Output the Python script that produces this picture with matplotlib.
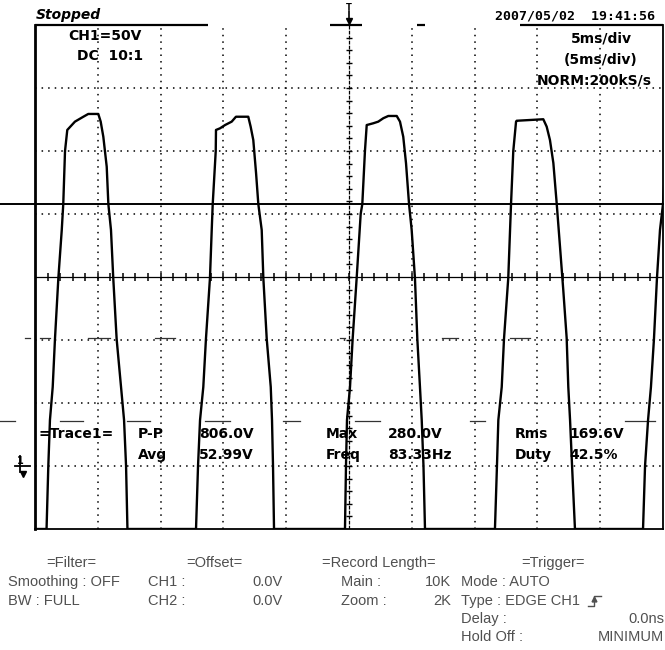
import numpy as np
import matplotlib
matplotlib.use("Agg")
import matplotlib.pyplot as plt
from matplotlib.lines import Line2D

W, H = 665, 650

# screen: 10 div x 5 ms/div, 8 div x 50 V/div, ground one div above bottom
t_min, t_max = 0.0, 50.0
v_min, v_max = -50.0, 350.0

# CH1 trace, time in ms, voltage in V
pulse1_t = [0.92, 1.06, 1.19, 1.41, 1.59, 1.86, 2.13, 2.25, 2.39, 2.57, 3.18, 3.85, 4.24,
            5.04, 5.23, 5.44, 5.71, 5.84, 6.05, 6.23, 6.50, 6.85, 7.09, 7.25, 7.36]
pulse1_v = [-50, 0, 36.5, 62.7, 100.8, 149.2, 187.3, 207.9, 250, 266.7, 273.3, 277.2, 279.4,
            279.4, 273.3, 261.3, 237.5, 207.9, 187.3, 149.2, 100.8, 62.7, 36.5, 0, -50]
pulse2_t = [12.82, 12.98, 13.14, 13.40, 13.61, 13.93, 14.07, 14.15, 14.39, 14.41, 14.73, 15.13, 15.66,
            16.00, 16.98, 17.17, 17.38, 17.60, 17.78, 18.05, 18.18, 18.45, 18.77, 18.87, 18.95, 19.03]
pulse2_v = [-50, 0, 36.5, 62.7, 100.8, 149.2, 187.3, 207.9, 250, 266.7, 268.0, 270.6, 273.3,
            277.2, 277.2, 269.3, 258.7, 232.5, 207.9, 187.3, 149.2, 100.8, 62.7, 36.5, 0, -50]
pulse3_t = [24.68, 24.76, 24.84, 25.08, 25.29, 25.61, 25.93, 26.06, 26.27, 26.41, 26.93, 27.33, 27.73,
            28.13, 28.80, 29.06, 29.32, 29.54, 29.78, 29.99, 30.25, 30.44, 30.65, 30.79, 30.93, 31.05]
pulse3_v = [-50, 0, 36.5, 62.7, 100.8, 149.2, 200, 207.9, 250, 270.6, 272.0, 273.3, 276.0,
            277.8, 277.8, 273.3, 261.3, 240.2, 207.9, 187.3, 149.2, 100.8, 62.7, 36.5, 0, -50]
pulse4_t = [36.62, 36.78, 36.89, 37.16, 37.34, 37.68, 37.90, 38.08, 38.30, 38.35, 40.47,
            40.74, 41.00, 41.27, 41.54, 41.80, 42.06, 42.33, 42.46, 42.60, 42.76, 42.99]
pulse4_v = [-50, 0, 36.5, 62.7, 100.8, 149.2, 207.9, 250, 273.3, 274.0, 275.2,
            269.3, 258.7, 240.5, 207.9, 174.0, 139.7, 101.6, 62.7, 36.5, 0, -50]
pulse5_t = [48.41, 48.57, 48.81, 49.04, 49.28, 49.52, 49.76, 50.00, 50.16]
pulse5_v = [-50, 0, 36.5, 62.7, 100.8, 149.2, 187.3, 207.9, 234.9]

cursor_v = 208.0      # solid cursor line
trig_t = 25.0         # trigger position (screen centre)

# short leftover dashes on the screen (start ms, end ms) at two levels
dash_v = [101.6, 35.7]
dash_spans = [
    [(-0.80, -0.40), (0.40, 1.19), (4.22, 5.97), (9.55, 11.15), (24.28, 24.68),
     (32.40, 33.68), (37.82, 39.41)],
    [(-2.79, -1.59), (1.99, 3.82), (7.32, 9.16), (13.54, 15.53), (19.75, 21.10),
     (25.48, 27.47), (34.63, 35.83), (46.97, 49.36)],
]

meas_row1 = [("P-P", "806.0V"), ("Max", "280.0V"), ("Rms", "169.6V")]
meas_row2 = [("Avg", "52.99V"), ("Freq", "83.33Hz"), ("Duty", "42.5%")]

trace_t = [0.0] + pulse1_t + pulse2_t + pulse3_t + pulse4_t + pulse5_t
trace_v = [-50] + pulse1_v + pulse2_v + pulse3_v + pulse4_v + pulse5_v

fig = plt.figure(figsize=(W / 100, H / 100), dpi=100)
fig.patch.set_facecolor("white")
ax = fig.add_axes([35 / W, (H - 529) / H, 628 / W, 504 / H])
ax.set_xlim(t_min, t_max)
ax.set_ylim(v_min, v_max)
ax.set_xticks([])
ax.set_yticks([])
for s in ["left", "right", "bottom"]:
    ax.spines[s].set_linewidth(1.3)
ax.spines["left"].set_linewidth(2.0)
ax.spines["top"].set_visible(False)

# partial top border (status bar underline)
for a, b in [(0.0, 13.77), (23.49, 26.03), (30.41, 31.05), (38.61, 50.0)]:
    ax.plot([a, b], [v_max, v_max], color="k", lw=1.6, clip_on=False, solid_capstyle="butt")

# dotted graticule
dots = (0, (1.0, 3.3))
for t in np.arange(5, 50, 5):
    if t != 25:
        ax.axvline(t, color="k", lw=1.1, ls=dots)
for v in np.arange(0, 350, 50):
    if v != 150:
        ax.axhline(v, color="k", lw=1.1, ls=dots)

# centre axes with minor ticks
ax.axhline(150, color="k", lw=0.9)
ax.plot(np.arange(1, 50, 1), np.full(49, 150.0), ls="none", marker="|", ms=6, mew=1.1, color="k")
ax.axvline(25, color="k", lw=0.9, ls=(0, (3, 1)))
ax.plot(np.full(39, 25.0), np.arange(-40, 350, 10), ls="none", marker="_", ms=5, mew=1.0, color="k")

# leftover dashes
for lvl, spans in zip(dash_v, dash_spans):
    for a, b in spans:
        ax.plot([a, b], [lvl, lvl], color="#333333", lw=0.9, clip_on=False)

# cursor line runs across the whole picture
ax.axhline(cursor_v, xmin=-35 / 628, xmax=1.0, color="k", lw=1.4, clip_on=False)

# trace
ax.plot(trace_t, trace_v, color="k", lw=1.7, solid_joinstyle="round")


def ftext(x, y, s, **kw):
    fig.text(x / W, 1 - y / H, s, va="center", **kw)


def fline(xs, ys, **kw):
    fig.add_artist(Line2D([x / W for x in xs], [1 - y / H for y in ys],
                          transform=fig.transFigure, **kw))


bold = dict(family="DejaVu Sans", weight="bold", fontsize=10, color="k")
ftext(36, 15, "Stopped", family="DejaVu Sans", weight="bold", style="italic", fontsize=10)
ftext(655, 16, "2007/05/02  19:41:56", family="DejaVu Sans Mono", weight="bold",
      fontsize=9.5, ha="right")
ftext(349, 8, "T", family="DejaVu Sans", weight="bold", fontsize=6, ha="center")
fline([349, 349], [11, 22], color="k", lw=1.2)
ax.plot([trig_t], [v_max + 3], marker="v", ms=4, color="k", clip_on=False)

ftext(68, 36, "CH1=50V", **bold)
ftext(77, 56, "DC  10:1", **bold)
ftext(601, 39, "5ms/div", ha="center", **bold)
ftext(601, 60, "(5ms/div)", ha="center", **bold)
ftext(652, 80, "NORM:200kS/s", ha="right", **bold)

# ground marker
ftext(20, 461, "1", family="DejaVu Sans", weight="bold", fontsize=7, ha="center")
fline([15, 30], [466, 466], color="k", lw=1.3)
fline([20, 20], [456, 472], color="k", lw=1.3)
fline([23], [474], marker="v", ms=4, color="k")

# measurement panel
ftext(38, 434, "=Trace1=", **bold)
xs_name = [138, 326, 515]
xs_val = [199, 388, 569]
for i in range(3):
    ftext(xs_name[i], 434, meas_row1[i][0], **bold)
    ftext(xs_val[i], 434, meas_row1[i][1], **bold)
    ftext(xs_name[i], 455, meas_row2[i][0], **bold)
    ftext(xs_val[i], 455, meas_row2[i][1], **bold)

# settings below the screen
grey = dict(family="Liberation Sans", fontsize=10.5, color="#505050")
ftext(46, 563, "=Filter=", **grey)
ftext(8, 582, "Smoothing : OFF", **grey)
ftext(8, 601, "BW : FULL", **grey)
ftext(186, 563, "=Offset=", **grey)
ftext(148, 582, "CH1 :", **grey)
ftext(283, 582, "0.0V", ha="right", **grey)
ftext(148, 601, "CH2 :", **grey)
ftext(283, 601, "0.0V", ha="right", **grey)
ftext(322, 563, "=Record Length=", **grey)
ftext(341, 582, "Main :", **grey)
ftext(451, 582, "10K", ha="right", **grey)
ftext(341, 601, "Zoom :", **grey)
ftext(451, 601, "2K", ha="right", **grey)
ftext(521, 563, "=Trigger=", **grey)
ftext(461, 582, "Mode : AUTO", **grey)
ftext(461, 601, "Type : EDGE CH1", **grey)
ftext(461, 619, "Delay :", **grey)
ftext(664, 619, "0.0ns", ha="right", **grey)
ftext(461, 637, "Hold Off :", **grey)
ftext(664, 637, "MINIMUM", ha="right", **grey)
# rising edge symbol
fline([588, 594, 594, 601], [606, 606, 596, 596], color="#505050", lw=1.0)
fline([594], [599], marker="^", ms=3.5, color="#505050")

fig.savefig("out.png", dpi=100, facecolor="white")
